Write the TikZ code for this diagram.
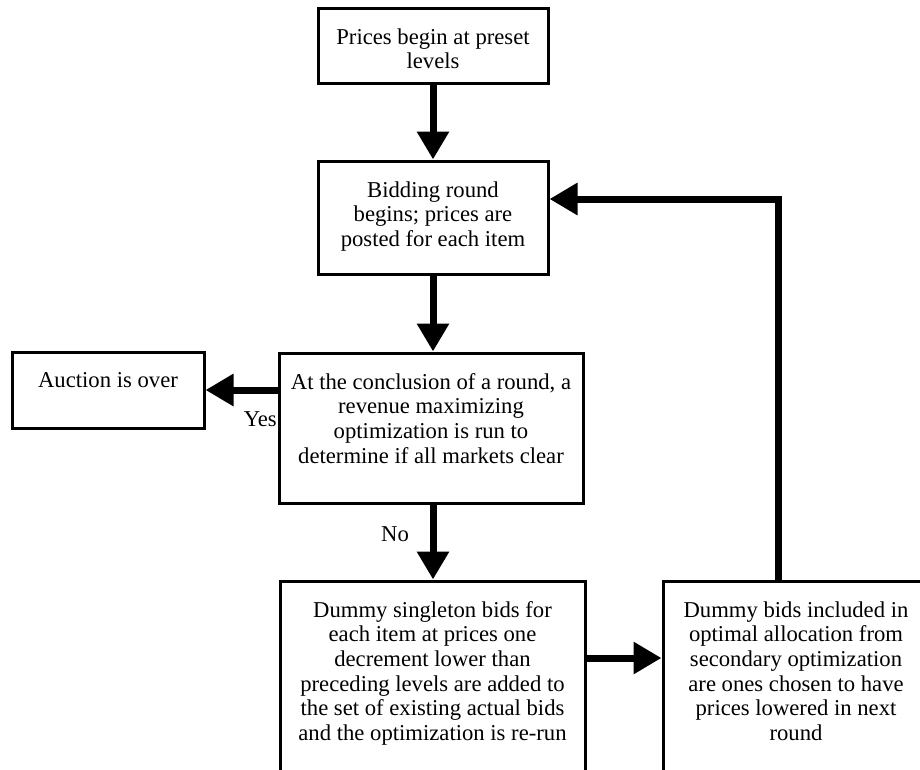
\documentclass[tikz,border=0pt]{standalone}
\usepackage{fontspec}
\setmainfont{Liberation Serif}
\usetikzlibrary{arrows.meta}
\begin{document}
\begin{tikzpicture}[x=0.75pt,y=-0.75pt,
  box/.style={draw,line width=2.25pt,inner sep=0pt,anchor=center},
  txt/.style={anchor=north,inner sep=0pt,align=center,font=\fontsize{17pt}{18.5pt}\selectfont},
  lbl/.style={inner sep=0pt,font=\fontsize{17pt}{18.5pt}\selectfont},
  flow/.style={line width=5.25pt,line join=miter,-{Triangle[length=21pt,width=23pt]}}]
\useasboundingbox (0,0) rectangle (920,769);
\clip (0,0) rectangle (920,769);
% boxes
\node[box,minimum width=172.5pt,minimum height=56.25pt] (b1) at (433,45.5) {};
\node[box,minimum width=172.5pt,minimum height=84.75pt] (b2) at (433,217.5) {};
\node[box,minimum width=228pt,minimum height=112.5pt] (b3) at (431,428) {};
\node[box,minimum width=144pt,minimum height=57pt] (b0) at (108,390) {};
\node[box,minimum width=228.75pt,minimum height=164.25pt] (b4) at (432.5,690.5) {};
\node[box,minimum width=199.5pt,minimum height=164.25pt] (b5) at (796,690.5) {};
% texts
\node[txt] (t1) at (433,28) {Prices begin at preset\\levels};
\node[txt] (t2) at (433,181) {Bidding round\\begins; prices are\\posted for each item};
\node[txt] (t3) at (431,373) {At the conclusion of a round, a\\revenue maximizing\\optimization is run to\\determine if all markets clear};
\node[txt] (t0) at (108,372) {Auction is over};
\node[txt] (t4) at (432.5,601) {Dummy singleton bids for\\each item at prices one\\decrement lower than\\preceding levels are added to\\the set of existing actual bids\\and the optimization is re-run};
\node[txt] (t5) at (796,601) {Dummy bids included in\\optimal allocation from\\secondary optimization\\are ones chosen to have\\prices lowered in next\\round};
% labels
\node[lbl,anchor=east] (yes) at (277,419) {Yes};
\node[lbl] (no) at (395,534) {No};
% helper coordinates
\coordinate (fb) at (778,199);
\coordinate (mid) at (620,658);
% connectors
\draw[flow] (b1.south) -- (b2.north);
\draw[flow] (b2.south) -- (b3.north -| b2.south);
\draw[flow] (b3.west |- b0.east) -- (b0.east);
\draw[flow] (b3.south -| b2.south) -- (b4.north -| b2.south);
\draw[flow] (b4.east |- mid) -- (b5.west |- mid);
\draw[flow] (b5.north -| fb) |- (b2.east |- fb);
\end{tikzpicture}
\end{document}
